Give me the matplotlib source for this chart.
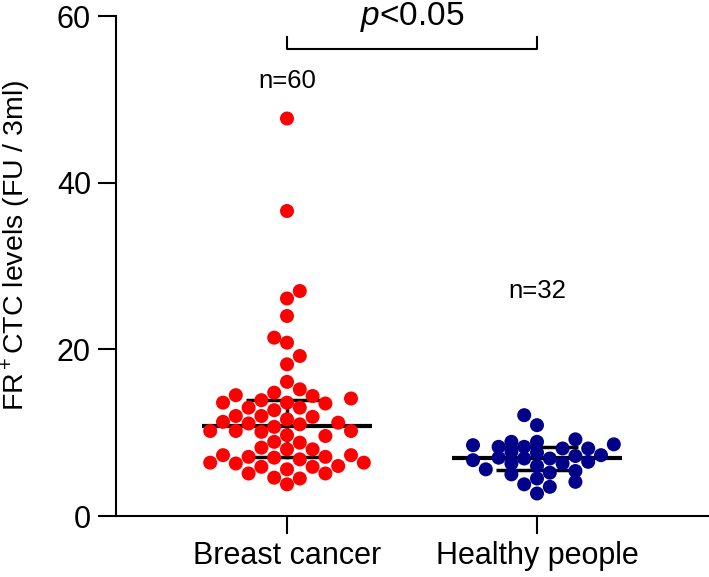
import numpy as np
import matplotlib
matplotlib.use("Agg")
import matplotlib.pyplot as plt

plt.rcParams['font.family'] = ['Liberation Sans', 'DejaVu Sans', 'Noto Sans CJK SC']
plt.rcParams['mathtext.fontset'] = 'custom'
plt.rcParams['mathtext.rm'] = 'Liberation Sans'
plt.rcParams['mathtext.it'] = 'Liberation Sans:italic'

categories = ["Breast cancer", "Healthy people"]
breast = [47.7, 36.6, 27.0, 26.1, 24.0, 21.4, 20.8, 19.2, 18.2,
          16.1, 15.2, 14.5, 14.1, 14.4, 14.8, 13.9, 13.6, 13.6, 13.0,
          13.0, 13.5, 12.7, 12.0, 12.0, 11.9, 11.1, 11.6, 11.3, 11.2,
          11.0, 10.7, 10.2, 10.2, 10.1, 9.6, 10.2, 9.7, 8.8, 8.9,
          8.0, 8.0, 8.2, 7.3, 7.1, 6.8, 7.1, 6.4, 7.0, 7.3,
          6.4, 5.9, 6.0, 5.9, 6.3, 5.6, 4.5, 5.1, 4.6, 5.1, 3.8]
healthy = [12.1, 10.9, 9.2, 8.9, 8.9, 8.6, 8.5, 8.3, 8.3, 8.1, 8.1,
           7.7, 7.6, 7.3, 7.2, 7.0, 6.9, 6.9, 6.7, 6.5, 6.3, 6.3,
           6.0, 5.6, 5.4, 5.2, 5.0, 4.5, 4.1, 3.8, 3.5, 2.7]
groups = [breast, healthy]
colors = ["#ff0000", "#00008b"]
n_labels = ["n=60", "n=32"]

W, H, DPI = 7.09, 5.77, 100
fig = plt.figure(figsize=(W, H), dpi=DPI)
ax = fig.add_axes([116/709, 61/577, 593/709, 500/577])
ax.set_ylim(0, 60)
ax.set_xlim(-0.684, 1.688)

fig.canvas.draw()
px_x = ax.transData.transform((1, 0))[0] - ax.transData.transform((0, 0))[0]
px_y = ax.transData.transform((0, 1))[1] - ax.transData.transform((0, 0))[1]

diam_px = 14.0
ms_pt = diam_px * 72 / DPI
col_px = 12.8
layout_gap = [13.5, 10.0]


def grid_swarm(vals, same_col=13.5, adj_col=5.0):
    """Column-grid dot layout: offsets (data units) on a column grid."""
    order = np.argsort(vals)
    placed = []  # (col, ypx)
    xs = np.zeros(len(vals))
    flip = 1
    for i in order:
        y = vals[i] * px_y
        best = None
        for k in range(0, 40):
            for c in ([0] if k == 0 else [flip * k, -flip * k]):
                ok = True
                for (pc, py) in placed:
                    d = abs(pc - c)
                    if d == 0 and abs(py - y) < same_col:
                        ok = False
                        break
                    if d == 1 and abs(py - y) < adj_col:
                        ok = False
                        break
                if ok:
                    best = c
                    break
            if best is not None:
                break
        if best != 0:
            flip = -flip
        placed.append((best, y))
        xs[i] = best * col_px / px_x
    return xs


for gi, vals in enumerate(groups):
    vals = np.asarray(vals, dtype=float)
    offs = grid_swarm(vals, same_col=layout_gap[gi])
    ax.scatter(gi + offs, vals, s=ms_pt**2, color=colors[gi], edgecolor='none', zorder=3)
    med = np.median(vals)
    q1, q3 = np.percentile(vals, [25, 75])
    ax.plot([gi - 0.34, gi + 0.34], [med, med], color='black', lw=3, zorder=2, solid_capstyle='butt')
    ax.plot([gi - 0.165, gi + 0.165], [q1, q1], color='black', lw=2.5, zorder=2, solid_capstyle='butt')
    ax.plot([gi - 0.165, gi + 0.165], [q3, q3], color='black', lw=2.5, zorder=2, solid_capstyle='butt')
    ax.plot([gi, gi], [q1, q3], color='black', lw=2.5, zorder=2)

ax.text(0, 51.3, n_labels[0], ha='center', va='baseline', fontsize=18.5)
ax.text(1, 26.2, n_labels[1], ha='center', va='baseline', fontsize=18.5)

# significance bracket
ax.plot([0, 0, 1, 1], [57.5, 56.0, 56.0, 57.5], color='black', lw=1.5, clip_on=False)
ax.text(0.5, 58.9, r"$\it{p}$<0.05", ha='center', va='baseline', fontsize=24, clip_on=False)

ax.set_xticks([0, 1])
ax.set_xticklabels(categories)
ax.set_yticks([0, 20, 40, 60])
ax.tick_params(axis='both', length=13, width=1.5, labelsize=22, pad=5)
for s in ['top', 'right']:
    ax.spines[s].set_visible(False)
for s in ['left', 'bottom']:
    ax.spines[s].set_linewidth(1.5)

ax.set_ylabel("FR$^+$CTC levels (FU / 3ml)", fontsize=20.5)
ax.yaxis.set_label_coords(-0.14, 0.542)

fig.savefig("out.png", dpi=DPI)
